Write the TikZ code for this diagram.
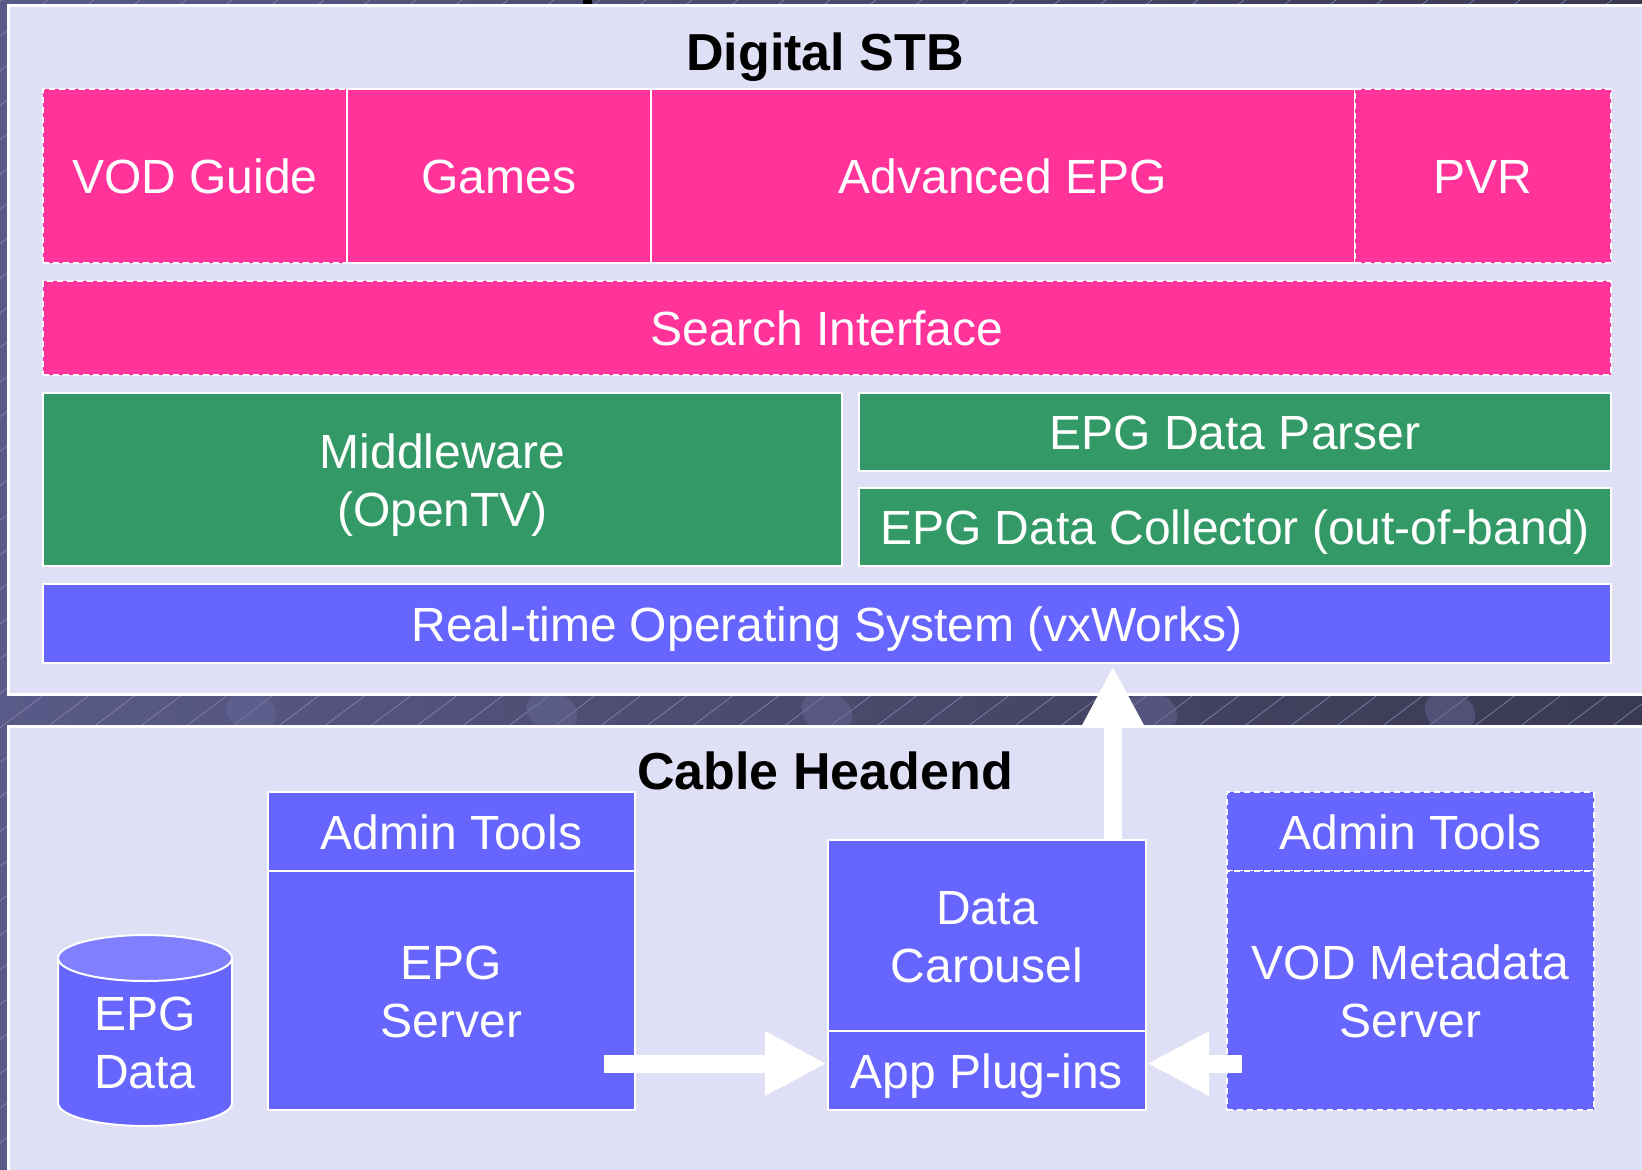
\documentclass[tikz,border=0pt]{standalone}
\usepackage{fontspec}
\setmainfont{Liberation Sans}
\usetikzlibrary{arrows.meta,calc}
\definecolor{bgdark}{HTML}{5A5A88}
\definecolor{bgdarker}{HTML}{393952}
\definecolor{bgblob}{HTML}{6A6A9C}
\definecolor{panelc}{HTML}{DFDFF5}
\definecolor{pinkc}{HTML}{FF3399}
\definecolor{greenc}{HTML}{339966}
\definecolor{bluec}{HTML}{6666FF}
\definecolor{bluetop}{HTML}{8080FF}
\definecolor{bgline}{HTML}{8888B0}
\begin{document}
\begin{tikzpicture}[x=1pt,y=-1pt,
  bigtext/.style={font=\fontsize{48}{58}\selectfont, text height=35pt, text depth=0pt},
  twoline/.style={text height=93pt, text depth=0pt},
  layerbox/.style={draw=white, line width=2pt, text=white, inner sep=0pt, anchor=north west, align=center, bigtext},
  dashedbox/.style={dash pattern=on 6pt off 4pt},
  pinkbox/.style={layerbox, fill=pinkc},
  greenbox/.style={layerbox, fill=greenc},
  bluebox/.style={layerbox, fill=bluec},
  paneltitle/.style={font=\bfseries\fontsize{52}{60}\selectfont, anchor=base, inner sep=0pt},
  bigarrow/.style={white, line width=18pt, -{Triangle[width=60pt,length=62pt]}},
  panelbox/.style={fill=panelc, draw=white, line width=3pt}
]
\useasboundingbox (0,0) rectangle (1642,1170);
% background
\fill[left color=bgdark, right color=bgdarker] (0,0) rectangle (1642,1170);
\begin{scope}
\clip (0,0) rectangle (1642,1170);
\foreach \i in {-1600,-1554,...,1700} \draw[bgline, line width=0.6pt] (\i,1170) -- (\i+1556,0);
\foreach \bx in {251,552,827,1152,1450} \fill[bgblob, opacity=0.45, rotate around={-20:(\bx,712)}] (\bx,712) ellipse[x radius=26, y radius=20];
\end{scope}
\fill[black] (583,0) rectangle (592,6);
% panels
\draw[panelbox] (8,5) rectangle (1660,694);
\draw[panelbox] (8,726) rectangle (1660,1185);
\node[paneltitle] (stbtitle) at (825,70) {Digital STB};
\node[paneltitle] (hetitle) at (825,789) {Cable Headend};
% STB layers
\node[pinkbox, dashedbox, minimum width=304pt, minimum height=174pt] (vod) at (42,88) {VOD Guide};
\node[pinkbox, minimum width=304pt, minimum height=174pt] (games) at (346,88) {Games};
\node[pinkbox, minimum width=704pt, minimum height=174pt] (aepg) at (650,88) {Advanced EPG};
\node[pinkbox, dashedbox, minimum width=256pt, minimum height=174pt] (pvr) at (1354,88) {PVR};
\node[pinkbox, dashedbox, minimum width=1568pt, minimum height=94pt] (search) at (42,280) {Search Interface};
\node[greenbox, twoline, minimum width=799pt, minimum height=173pt] (mw) at (42,392) {Middleware\\(OpenTV)};
\node[greenbox, minimum width=752pt, minimum height=78pt] (parser) at (858,392) {EPG Data Parser};
\node[greenbox, minimum width=752pt, minimum height=78pt] (collector) at (858,487) {EPG Data Collector (out-of-band)};
\node[bluebox, minimum width=1568pt, minimum height=79pt] (rtos) at (42,583) {Real-time Operating System (vxWorks)};
% headend
\node[bluebox, minimum width=367pt, minimum height=79pt] (admin1) at (267,791) {Admin Tools};
\node[bluebox, twoline, minimum width=367pt, minimum height=239pt] (epgserver) at (267,870) {EPG\\Server};
\node[bluebox, twoline, minimum width=318pt, minimum height=191pt] (carousel) at (827,839) {Data\\Carousel};
\node[bluebox, minimum width=318pt, minimum height=79pt] (appplug) at (827,1030) {App Plug-ins};
\node[bluebox, dashedbox, minimum width=367pt, minimum height=79pt] (admin2) at (1226,791) {Admin Tools};
\node[bluebox, dashedbox, twoline, minimum width=367pt, minimum height=239pt] (vodserver) at (1226,870) {VOD Metadata\\Server};
% database cylinder
\fill[bluec] (58,958) rectangle (232,1103);
\fill[bluec] (145,1103) ellipse[x radius=87, y radius=23];
\draw[white, line width=2pt] (58,958) -- (58,1103) arc[start angle=180, end angle=0, x radius=87, y radius=23] -- (232,958);
\draw[white, line width=2pt, fill=bluetop] (145,958) ellipse[x radius=87, y radius=23];
\node[text=white, align=center, bigtext, twoline, inner sep=0pt] (epgdata) at (145,1042) {EPG\\Data};
% arrows
\coordinate (uptip) at (1113,666);
\coordinate (intipL) at ($(appplug.west)+(0,-7)$);
\coordinate (intipR) at ($(appplug.east)+(0,-7)$);
\coordinate (srvout) at ($(epgserver.east)+(-32,0)$);
\coordinate (vodout) at ($(vodserver.west)+(16,0)$);
\draw[bigarrow] (carousel.north -| uptip) -- (uptip);
\draw[bigarrow] (srvout |- intipL) -- (intipL);
\draw[bigarrow] (vodout |- intipR) -- (intipR);
\end{tikzpicture}
\end{document}
